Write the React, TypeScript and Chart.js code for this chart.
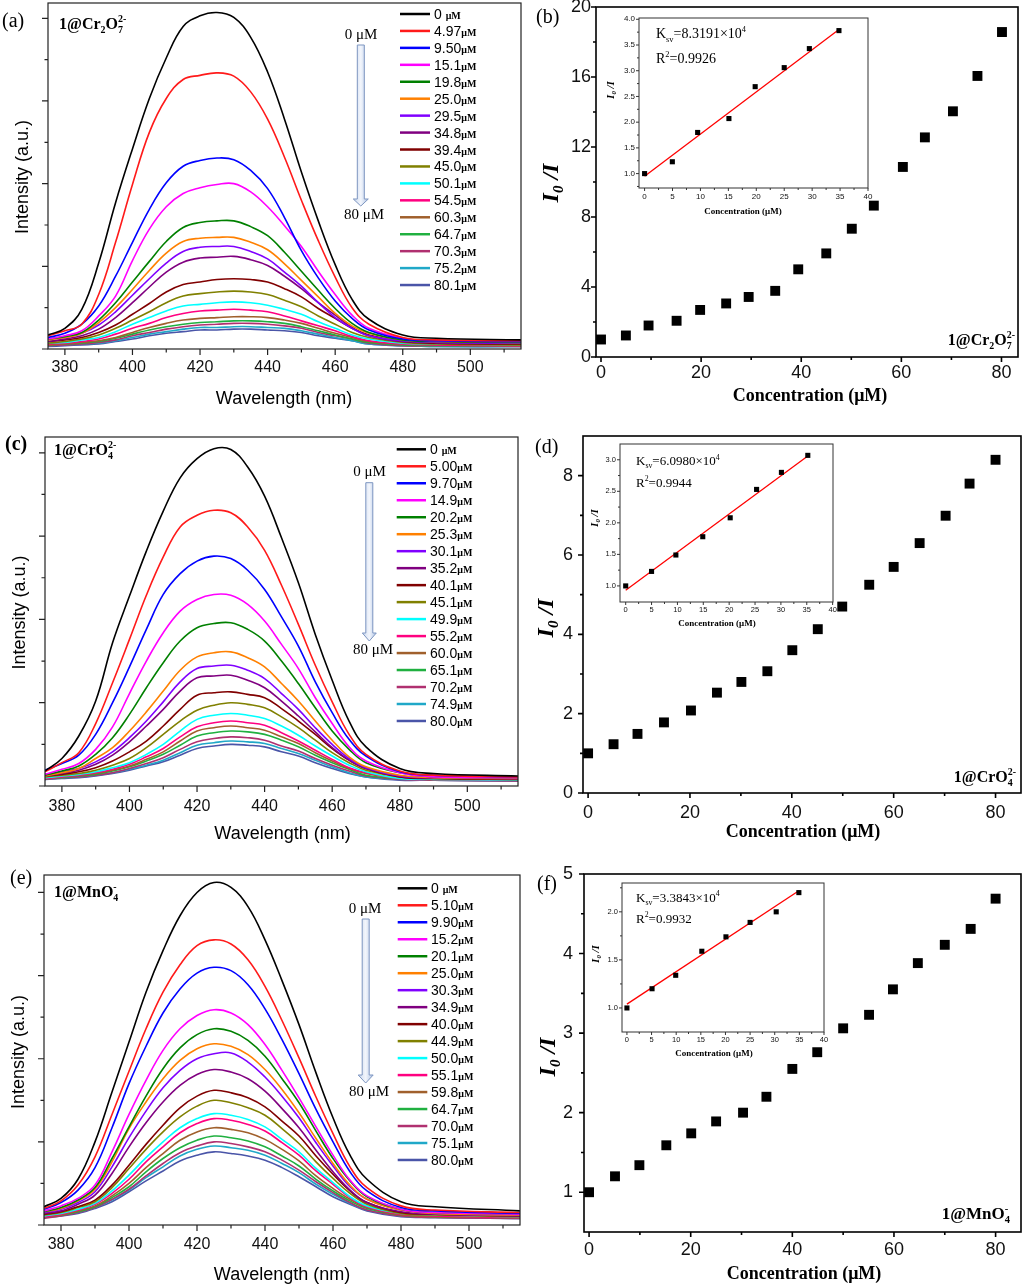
import React, { useEffect, useRef } from 'react';
import { Chart, registerables } from 'chart.js';

Chart.register(...registerables);

const SANS = '"Liberation Sans", Arial, sans-serif';
const SERIF = '"Liberation Serif", "Times New Roman", serif';

// ---------------- spectra data (a), (c), (e) ----------------
const WAVELENGTHS = [375, 380, 385, 390, 395, 400, 405, 410, 415, 420, 425, 430, 435, 440, 445, 450, 455, 460, 465, 470, 480, 490, 515];
const SPEC_X_MAJOR = [380, 400, 420, 440, 460, 480, 500];
const SPEC_X_MINOR = [390, 410, 430, 450, 470, 490, 510];
const SPEC_Y_MAJOR = [0, 100, 200, 300, 400];
const SPEC_Y_MINOR = [50, 150, 250, 350];

const SERIES_COLORS = [
  '#000000', '#ff1a1a', '#0000ff', '#ff00ff', '#008000', '#ff8000', '#8000ff', '#800080', '#800000',
  '#808000', '#00ffff', '#ff0080', '#a0602c', '#20b040', '#b03070', '#20a8c8', '#4a55a8',
];

const LEGEND_A = ['0', '4.97', '9.50', '15.1', '19.8', '25.0', '29.5', '34.8', '39.4', '45.0', '50.1', '54.5', '60.3', '64.7', '70.3', '75.2', '80.1'];
const LEGEND_C = ['0', '5.00', '9.70', '14.9', '20.2', '25.3', '30.1', '35.2', '40.1', '45.1', '49.9', '55.2', '60.0', '65.1', '70.2', '74.9', '80.0'];
const LEGEND_E = ['0', '5.10', '9.90', '15.2', '20.1', '25.0', '30.3', '34.9', '40.0', '44.9', '50.0', '55.1', '59.8', '64.7', '70.0', '75.1', '80.0'];

const SPECTRA_A = [
  [17, 25, 48, 104, 177, 242, 303, 352, 390, 403, 407, 401, 377, 335, 278, 214, 155, 102, 60, 36, 17, 13, 11],
  [16, 22, 30, 66, 129, 199, 262, 303, 326, 331, 334, 330, 311, 278, 232, 180, 131, 87, 50, 30, 14, 11, 10],
  [14, 19, 30, 52, 88, 129, 169, 201, 221, 228, 231, 229, 216, 194, 159, 119, 86, 58, 37, 23, 12, 10, 9],
  [12, 16, 22, 40, 64, 107, 145, 172, 188, 195, 199, 200, 190, 172, 149, 124, 94, 66, 41, 25, 13, 10, 9],
  [12, 15, 20, 35, 56, 81, 106, 130, 147, 153, 155, 155, 148, 137, 117, 94, 71, 49, 31, 20, 11, 9, 8],
  [11, 14, 19, 32, 50, 72, 95, 116, 130, 134, 135, 135, 129, 120, 103, 83, 63, 43, 28, 19, 11, 9, 8],
  [12, 14, 19, 29, 45, 65, 85, 104, 118, 123, 124, 124, 118, 109, 93, 76, 56, 38, 25, 16, 10, 8, 7],
  [9, 12, 16, 24, 38, 56, 75, 93, 105, 110, 111, 112, 108, 101, 88, 73, 56, 41, 26, 16, 9, 8, 7],
  [9, 11, 14, 20, 29, 42, 55, 69, 78, 81, 84, 85, 84, 81, 73, 63, 49, 37, 25, 17, 9, 7, 6],
  [7, 9, 12, 17, 25, 35, 45, 56, 64, 67, 69, 70, 69, 66, 59, 51, 40, 30, 20, 14, 8, 6, 5],
  [7, 8, 11, 14, 21, 30, 38, 46, 52, 54, 56, 57, 56, 53, 48, 42, 33, 25, 17, 12, 7, 6, 5],
  [6, 7, 9, 12, 18, 25, 31, 38, 43, 46, 47, 48, 47, 45, 40, 34, 28, 22, 15, 10, 6, 5, 4],
  [5, 6, 8, 10, 14, 20, 26, 31, 35, 37, 38, 39, 39, 38, 35, 31, 25, 19, 14, 9, 6, 5, 4],
  [5, 6, 7, 9, 13, 18, 23, 27, 30, 32, 33, 34, 34, 33, 31, 27, 22, 17, 12, 8, 5, 4, 4],
  [4, 5, 6, 8, 11, 16, 20, 24, 27, 29, 30, 31, 31, 30, 28, 25, 20, 16, 12, 7, 4, 4, 3],
  [4, 5, 6, 7, 10, 14, 18, 21, 24, 26, 26, 27, 27, 26, 25, 22, 18, 14, 10, 6, 4, 3, 3],
  [3, 4, 5, 6, 9, 12, 16, 19, 21, 23, 23, 24, 24, 23, 22, 20, 16, 13, 10, 6, 4, 3, 3],
];

const SPECTRA_C = [
  [18, 33, 60, 102, 172, 228, 282, 330, 370, 393, 405, 404, 383, 348, 298, 244, 182, 127, 78, 47, 21, 15, 12],
  [17, 28, 40, 75, 124, 176, 229, 275, 311, 325, 331, 328, 311, 283, 241, 194, 145, 101, 62, 38, 18, 13, 11],
  [19, 27, 37, 62, 100, 143, 188, 230, 255, 270, 276, 273, 259, 236, 203, 168, 125, 88, 56, 36, 17, 13, 11],
  [14, 20, 27, 44, 71, 111, 150, 184, 210, 224, 230, 229, 218, 198, 170, 141, 106, 75, 47, 30, 16, 11, 10],
  [13, 18, 24, 38, 58, 86, 118, 148, 174, 190, 195, 196, 188, 174, 150, 123, 94, 66, 44, 28, 16, 11, 10],
  [12, 16, 21, 33, 46, 66, 89, 114, 139, 155, 160, 161, 154, 143, 123, 102, 78, 55, 35, 23, 13, 10, 9],
  [14, 17, 21, 29, 41, 58, 78, 101, 125, 141, 144, 145, 139, 129, 111, 92, 70, 50, 33, 22, 12, 10, 9],
  [12, 15, 19, 26, 37, 53, 72, 92, 114, 130, 132, 133, 127, 118, 102, 84, 65, 46, 31, 21, 12, 10, 9],
  [12, 14, 17, 22, 30, 41, 54, 72, 92, 109, 112, 113, 110, 106, 93, 78, 62, 45, 31, 21, 11, 9, 8],
  [11, 13, 15, 19, 25, 33, 46, 62, 78, 91, 97, 100, 98, 94, 83, 70, 55, 40, 28, 19, 11, 9, 8],
  [10, 12, 14, 17, 22, 28, 38, 50, 66, 80, 85, 87, 85, 81, 72, 61, 48, 36, 25, 17, 9, 8, 7],
  [9, 11, 13, 16, 20, 26, 35, 45, 59, 71, 76, 78, 76, 73, 64, 54, 43, 32, 22, 16, 9, 8, 7],
  [9, 11, 13, 15, 19, 24, 32, 41, 54, 66, 70, 72, 70, 67, 59, 51, 40, 30, 21, 15, 9, 8, 7],
  [9, 10, 12, 14, 18, 23, 30, 38, 49, 60, 64, 66, 65, 62, 55, 47, 37, 28, 20, 13, 9, 8, 7],
  [8, 10, 11, 13, 16, 21, 27, 34, 44, 53, 57, 59, 58, 55, 48, 42, 33, 25, 18, 12, 8, 7, 6],
  [8, 10, 11, 13, 16, 20, 25, 31, 40, 49, 52, 54, 53, 51, 45, 39, 31, 23, 16, 11, 8, 7, 6],
  [8, 9, 10, 12, 15, 19, 24, 29, 37, 45, 48, 50, 49, 47, 41, 36, 28, 21, 15, 11, 7, 7, 6],
];

const SPECTRA_E = [
  [22, 32, 55, 100, 160, 220, 280, 330, 372, 400, 412, 406, 383, 343, 294, 241, 183, 129, 84, 55, 28, 22, 17],
  [20, 29, 48, 82, 133, 185, 236, 280, 313, 336, 343, 338, 319, 287, 246, 201, 154, 110, 70, 45, 23, 18, 15],
  [19, 27, 42, 69, 117, 170, 215, 255, 284, 303, 310, 306, 289, 260, 223, 182, 139, 100, 64, 41, 21, 17, 14],
  [17, 23, 32, 48, 88, 133, 174, 210, 236, 252, 259, 255, 241, 217, 186, 153, 118, 84, 54, 35, 19, 15, 13],
  [16, 21, 30, 45, 80, 118, 155, 188, 213, 229, 236, 233, 222, 203, 176, 147, 113, 80, 53, 34, 19, 15, 13],
  [16, 20, 29, 43, 76, 116, 148, 176, 198, 212, 218, 215, 205, 187, 163, 135, 104, 74, 48, 31, 18, 14, 12],
  [15, 19, 27, 40, 70, 105, 137, 165, 186, 200, 206, 207, 196, 178, 155, 129, 99, 71, 46, 31, 18, 14, 12],
  [14, 17, 25, 36, 62, 94, 123, 148, 168, 181, 187, 184, 176, 161, 140, 117, 90, 64, 42, 27, 16, 13, 11],
  [13, 16, 22, 30, 48, 72, 97, 120, 141, 155, 162, 159, 153, 142, 125, 107, 83, 61, 41, 27, 15, 13, 11],
  [12, 15, 21, 28, 45, 68, 91, 112, 130, 143, 150, 147, 141, 132, 116, 98, 76, 56, 38, 25, 14, 12, 10],
  [11, 14, 19, 26, 41, 60, 81, 100, 117, 128, 134, 132, 127, 118, 103, 88, 68, 51, 34, 23, 14, 12, 10],
  [10, 13, 18, 25, 38, 55, 76, 94, 111, 122, 128, 126, 121, 113, 99, 84, 65, 49, 33, 22, 13, 11, 9],
  [10, 12, 17, 23, 35, 50, 69, 86, 102, 112, 117, 115, 111, 103, 91, 77, 59, 44, 31, 21, 12, 10, 9],
  [10, 12, 16, 22, 33, 46, 64, 80, 93, 102, 107, 105, 101, 94, 83, 71, 55, 41, 29, 20, 12, 10, 9],
  [8, 11, 15, 21, 31, 43, 59, 74, 87, 95, 100, 98, 94, 88, 78, 66, 52, 39, 27, 18, 11, 9, 8],
  [10, 12, 15, 21, 30, 42, 57, 70, 83, 91, 95, 93, 90, 84, 74, 63, 49, 37, 26, 18, 11, 9, 8],
  [9, 11, 14, 20, 28, 40, 53, 65, 77, 84, 88, 86, 83, 78, 69, 58, 46, 34, 25, 17, 10, 9, 8],
];

// ---------------- Stern-Volmer data (b), (d), (f) ----------------
const CONC_B = [0, 4.97, 9.5, 15.1, 19.8, 25.0, 29.5, 34.8, 39.4, 45.0, 50.1, 54.5, 60.3, 64.7, 70.3, 75.2, 80.1];
const RATIO_B = [1.0, 1.23, 1.8, 2.07, 2.69, 3.06, 3.43, 3.78, 5.01, 5.92, 7.33, 8.65, 10.86, 12.55, 14.04, 16.06, 18.57];
const FIT_B_X = [0, 34.8];
const FIT_B_Y = [0.95, 3.8];
const KSV_B = '8.3191';
const R2_B = '0.9926';

const CONC_D = [0, 5.0, 9.7, 14.9, 20.2, 25.3, 30.1, 35.2, 40.1, 45.1, 49.9, 55.2, 60.0, 65.1, 70.2, 74.9, 80.0];
const RATIO_D = [1.0, 1.23, 1.49, 1.78, 2.08, 2.53, 2.8, 3.07, 3.6, 4.13, 4.7, 5.25, 5.7, 6.3, 6.99, 7.8, 8.4];
const FIT_D_X = [0, 35.2];
const FIT_D_Y = [0.93, 3.06];
const KSV_D = '6.0980';
const R2_D = '0.9944';

const CONC_F = [0, 5.1, 9.9, 15.2, 20.1, 25.0, 30.3, 34.9, 40.0, 44.9, 50.0, 55.1, 59.8, 64.7, 70.0, 75.1, 80.0];
const RATIO_F = [1.0, 1.2, 1.34, 1.59, 1.74, 1.89, 2.0, 2.2, 2.55, 2.76, 3.06, 3.23, 3.55, 3.88, 4.11, 4.31, 4.69];
const FIT_F_X = [0, 34.9];
const FIT_F_Y = [1.04, 2.22];
const KSV_F = '3.3843';
const R2_F = '0.9932';

const INSET_POINTS = 8;

const SC_X_MAJOR = [0, 20, 40, 60, 80];
const SC_X_MINOR = [10, 30, 50, 70];
const B_Y_MAJOR = [0, 4, 8, 12, 16, 20];
const B_Y_MINOR = [2, 6, 10, 14, 18];
const D_Y_MAJOR = [0, 2, 4, 6, 8];
const D_Y_MINOR = [1, 3, 5, 7];
const F_Y_MAJOR = [1, 2, 3, 4, 5];
const F_Y_MINOR = [1.5, 2.5, 3.5, 4.5];
const IN_X_MAJOR = [0, 5, 10, 15, 20, 25, 30, 35, 40];
const IN_X_MINOR = [2.5, 7.5, 12.5, 17.5, 22.5, 27.5, 32.5, 37.5];
const INB_Y_MAJOR = [1.0, 1.5, 2.0, 2.5, 3.0, 3.5, 4.0];
const INB_Y_MINOR = [0.75, 1.25, 1.75, 2.25, 2.75, 3.25, 3.75];
const IND_Y_MAJOR = [1.0, 1.5, 2.0, 2.5, 3.0];
const IND_Y_MINOR = [1.25, 1.75, 2.25, 2.75];
const INF_Y_MAJOR = [1.0, 1.5, 2.0];
const INF_Y_MINOR = [1.25, 1.75, 2.25];

// ---------------- rich text helpers ----------------
type Seg = { t: string; size: number; bold?: boolean; italic?: boolean; serif?: boolean; dy?: number; stack?: boolean };

function segFont(s: Seg) {
  return `${s.italic ? 'italic ' : ''}${s.bold ? 'bold ' : ''}${s.size}px ${s.serif ? SERIF : SANS}`;
}

function richWidth(ctx: CanvasRenderingContext2D, segs: Seg[]) {
  let x = 0, px = 0, pw = 0;
  for (const s of segs) {
    ctx.font = segFont(s);
    const w = ctx.measureText(s.t).width;
    if (s.stack) { x = px + Math.max(pw, w); pw = Math.max(pw, w); }
    else { px = x; pw = w; x += w; }
  }
  return x;
}

function drawRich(ctx: CanvasRenderingContext2D, segs: Seg[], x: number, y: number, align = 'left', rot = 0, color = '#000') {
  ctx.save();
  ctx.translate(x, y);
  if (rot) ctx.rotate(rot);
  const total = richWidth(ctx, segs);
  let cx = align === 'left' ? 0 : align === 'center' ? -total / 2 : -total;
  let px = cx, pw = 0;
  ctx.fillStyle = color;
  ctx.textBaseline = 'alphabetic';
  ctx.textAlign = 'left';
  for (const s of segs) {
    ctx.font = segFont(s);
    const w = ctx.measureText(s.t).width;
    if (s.stack) {
      ctx.fillText(s.t, px, s.dy || 0);
      cx = px + Math.max(pw, w);
      pw = Math.max(pw, w);
    } else {
      ctx.fillText(s.t, cx, s.dy || 0);
      px = cx; pw = w; cx += w;
    }
  }
  ctx.restore();
}

const B = { bold: true, serif: true };
function tagCr2O7(s: number): Seg[] {
  return [
    { t: '1@Cr', size: s, ...B },
    { t: '2', size: s * 0.62, ...B, dy: s * 0.25 },
    { t: 'O', size: s, ...B },
    { t: '7', size: s * 0.62, ...B, dy: s * 0.25 },
    { t: '2-', size: s * 0.62, ...B, dy: -s * 0.42, stack: true },
  ];
}
function tagCrO4(s: number): Seg[] {
  return [
    { t: '1@CrO', size: s, ...B },
    { t: '4', size: s * 0.62, ...B, dy: s * 0.25 },
    { t: '2-', size: s * 0.62, ...B, dy: -s * 0.42, stack: true },
  ];
}
function tagMnO4(s: number): Seg[] {
  return [
    { t: '1@MnO', size: s, ...B },
    { t: '4', size: s * 0.62, ...B, dy: s * 0.25 },
    { t: '-', size: s * 0.62, ...B, dy: -s * 0.42, stack: true },
  ];
}
function ratioTitle(s: number): Seg[] {
  const f = { bold: true, italic: true, serif: true };
  return [
    { t: 'I', size: s, ...f },
    { t: '0', size: s * 0.62, ...f, dy: s * 0.22 },
    { t: ' /I', size: s, ...f },
  ];
}
function ksvText(v: string, s: number): Seg[] {
  return [
    { t: 'K', size: s, serif: true },
    { t: 'sv', size: s * 0.6, serif: true, dy: s * 0.25 },
    { t: '=' + v + '×10', size: s, serif: true },
    { t: '4', size: s * 0.6, serif: true, dy: -s * 0.42 },
  ];
}
function r2Text(v: string, s: number): Seg[] {
  return [
    { t: 'R', size: s, serif: true },
    { t: '2', size: s * 0.6, serif: true, dy: -s * 0.42 },
    { t: '=' + v, size: s, serif: true },
  ];
}

// ---------------- chart helpers ----------------
function drawFrameTicks(chart: any, t: any) {
  const { ctx, chartArea: a } = chart;
  const xs = chart.scales.x, ys = chart.scales.y;
  ctx.save();
  ctx.strokeStyle = t.color;
  ctx.lineWidth = t.lw;
  ctx.beginPath();
  const seg = (x1: number, y1: number, x2: number, y2: number) => { ctx.moveTo(x1, y1); ctx.lineTo(x2, y2); };
  t.xMaj.forEach((v: number) => { const p = xs.getPixelForValue(v); seg(p, a.bottom, p, a.bottom + t.maj); });
  t.xMin.forEach((v: number) => { const p = xs.getPixelForValue(v); seg(p, a.bottom, p, a.bottom + t.min); });
  t.yMaj.forEach((v: number) => { const p = ys.getPixelForValue(v); seg(a.left, p, a.left - t.maj, p); });
  t.yMin.forEach((v: number) => { const p = ys.getPixelForValue(v); seg(a.left, p, a.left - t.min, p); });
  ctx.stroke();
  ctx.strokeRect(a.left, a.top, a.right - a.left, a.bottom - a.top);
  ctx.restore();
}

function fitX(rect: any, area: any) {
  const h = rect.T + rect.H - area.b;
  return (s: any) => { s.height = h; s.paddingLeft = 0; s.paddingRight = 0; };
}
function fitY(rect: any, area: any) {
  const w = area.l - rect.L;
  return (s: any) => { s.width = w; s.paddingTop = 0; s.paddingBottom = 0; };
}

function linAxis(min: number, max: number, ticks: number[], size: number, pad: number, show: boolean, fit: any, fmt: (v: number) => string) {
  return {
    type: 'linear',
    min,
    max,
    grid: { display: false, drawTicks: false },
    border: { display: false },
    afterBuildTicks: (s: any) => { s.ticks = ticks.map((v) => ({ value: v })); },
    afterFit: fit,
    ticks: {
      display: show, autoSkip: false, maxRotation: 0, minRotation: 0, padding: pad, color: '#111',
      font: { family: SANS, size }, callback: (v: any) => fmt(Number(v)),
    },
  };
}

function common(rect: any, area: any) {
  return {
    responsive: false,
    maintainAspectRatio: false,
    animation: false,
    devicePixelRatio: 1,
    events: [],
    layout: { padding: { left: 0, bottom: 0, top: area.t - rect.T, right: rect.L + rect.W - area.r } },
    plugins: { legend: { display: false }, tooltip: { enabled: false }, title: { display: false } },
  };
}

function drawArrow(ctx: CanvasRenderingContext2D, ar: any) {
  const { cx, top, headTop, bottom, shaftW, headW } = ar;
  const g = ctx.createLinearGradient(cx - headW / 2, 0, cx + headW / 2, 0);
  g.addColorStop(0, '#c9d7ee');
  g.addColorStop(0.5, '#f3f6fc');
  g.addColorStop(1, '#aec3e4');
  ctx.save();
  ctx.beginPath();
  ctx.moveTo(cx - shaftW / 2, top);
  ctx.lineTo(cx + shaftW / 2, top);
  ctx.lineTo(cx + shaftW / 2, headTop);
  ctx.lineTo(cx + headW / 2, headTop);
  ctx.lineTo(cx, bottom);
  ctx.lineTo(cx - headW / 2, headTop);
  ctx.lineTo(cx - shaftW / 2, headTop);
  ctx.closePath();
  ctx.fillStyle = g;
  ctx.fill();
  ctx.strokeStyle = '#7d95c0';
  ctx.lineWidth = 1;
  ctx.stroke();
  ctx.restore();
}

// ---------------- panel layouts ----------------
const PANEL_A = {
  rect: { L: 0, T: 0, W: 525, H: 415 }, area: { l: 48, t: 3, r: 521, b: 349 }, yMax: 418.5, xPad: 9.4,
  spectra: SPECTRA_A, labels: LEGEND_A,
  legend: { x1: 400, x2: 430, tx: 434, y0: 14, dy: 16.94 },
  arrow: { cx: 360.8, top: 45, headTop: 199, bottom: 206, shaftW: 7, headW: 15, l0: [361, 33.7], l80: [364, 214] },
  letter: { t: '(a)', x: 2, y: 27, bold: false },
  tag: { segs: tagCr2O7(16), x: 59, y: 28.5 },
  yTitle: [21, 177], xTitle: [284, 397],
};
const PANEL_C = {
  rect: { L: 0, T: 415, W: 525, H: 432 }, area: { l: 45, t: 437, r: 518, b: 786 }, yMax: 419, xPad: 11,
  spectra: SPECTRA_C, labels: LEGEND_C,
  legend: { x1: 396.7, x2: 426, tx: 430, y0: 449.3, dy: 16.98 },
  arrow: { cx: 369.3, top: 482.7, headTop: 633, bottom: 641, shaftW: 7, headW: 14, l0: [369.5, 471.3], l80: [373, 649.3] },
  letter: { t: '(c)', x: 5, y: 450, bold: true },
  tag: { segs: tagCrO4(16), x: 54, y: 454.5 },
  yTitle: [18, 612.5], xTitle: [282.5, 832],
};
const PANEL_E = {
  rect: { L: 0, T: 845, W: 525, H: 440 }, area: { l: 44, t: 875, r: 520, b: 1225 }, yMax: 421, xPad: 10.4,
  spectra: SPECTRA_E, labels: LEGEND_E,
  legend: { x1: 397.7, x2: 427.3, tx: 431, y0: 888.3, dy: 16.98 },
  arrow: { cx: 365.7, top: 919, headTop: 1075, bottom: 1083, shaftW: 7, headW: 15, l0: [365, 907.7], l80: [369, 1090.7] },
  letter: { t: '(e)', x: 10, y: 884, bold: false },
  tag: { segs: tagMnO4(16), x: 54, y: 896.5 },
  yTitle: [17, 1052], xTitle: [282, 1273],
};

const PANEL_B = {
  rect: { L: 525, T: 0, W: 503, H: 415 }, area: { l: 596, t: 7, r: 1018, b: 357 },
  xMax: 83.3, yMin: 0, yMax: 20, yMaj: B_Y_MAJOR, yMin2: B_Y_MINOR, xPad: 5.5, yPad: 5,
  conc: CONC_B, ratio: RATIO_B,
  letter: { t: '(b)', x: 536, y: 23 }, yTitle: [550, 183], xTitle: [810, 401],
  tag: { segs: tagCr2O7(16), x: 1015, y: 345 },
};
const PANEL_D = {
  rect: { L: 525, T: 415, W: 503, H: 432 }, area: { l: 583, t: 436, r: 1022, b: 793 },
  xMax: 85, yMin: 0, yMax: 9, yMaj: D_Y_MAJOR, yMin2: D_Y_MINOR, xPad: 9.5, yPad: 10,
  conc: CONC_D, ratio: RATIO_D,
  letter: { t: '(d)', x: 535, y: 453 }, yTitle: [545, 618], xTitle: [803, 837],
  tag: { segs: tagCrO4(16), x: 1016, y: 782 },
};
const PANEL_F = {
  rect: { L: 525, T: 845, W: 503, H: 440 }, area: { l: 584, t: 874, r: 1023, b: 1232 },
  xMax: 85, yMin: 0.5, yMax: 5, yMaj: F_Y_MAJOR, yMin2: F_Y_MINOR, xPad: 7.2, yPad: 11,
  conc: CONC_F, ratio: RATIO_F,
  letter: { t: '(f)', x: 537, y: 890 }, yTitle: [547, 1057], xTitle: [804, 1279],
  tag: { segs: tagMnO4(17), x: 1010, y: 1219 },
};

const INSET_B = {
  rect: { L: 600, T: 5, W: 280, H: 220 }, area: { l: 639, t: 18, r: 868, b: 188 },
  xMin: -1, xMax: 40, yMin: 0.72, yMax: 4.025, yMaj: INB_Y_MAJOR, yMin2: INB_Y_MINOR,
  conc: CONC_B, ratio: RATIO_B, fitX: FIT_B_X, fitY: FIT_B_Y, ksv: KSV_B, r2: R2_B,
  font: 8, tfont: 14, kPos: [656, 38.3], rPos: [656, 62.5], yTitle: [610, 90], xTitle: [743, 214],
};
const INSET_D = {
  rect: { L: 575, T: 430, W: 270, H: 205 }, area: { l: 620, t: 444, r: 833, b: 602 },
  xMin: -1.1, xMax: 40.07, yMin: 0.745, yMax: 3.25, yMaj: IND_Y_MAJOR, yMin2: IND_Y_MINOR,
  conc: CONC_D, ratio: RATIO_D, fitX: FIT_D_X, fitY: FIT_D_Y, ksv: KSV_D, r2: R2_D,
  font: 7.5, tfont: 13, kPos: [636, 465], rPos: [636, 486.5], yTitle: [594, 518], xTitle: [717, 626],
};
const INSET_F = {
  rect: { L: 580, T: 870, W: 255, H: 195 }, area: { l: 622, t: 883, r: 824, b: 1032 },
  xMin: -1, xMax: 40, yMin: 0.75, yMax: 2.3, yMaj: INF_Y_MAJOR, yMin2: INF_Y_MINOR,
  conc: CONC_F, ratio: RATIO_F, fitX: FIT_F_X, fitY: FIT_F_Y, ksv: KSV_F, r2: R2_F,
  font: 7.5, tfont: 13, kPos: [636, 901.5], rPos: [636, 922.5], yTitle: [595, 954], xTitle: [714, 1056],
};

// ---------------- builders ----------------
function buildSpectrum(canvas: HTMLCanvasElement, p: any) {
  const { rect, area } = p;
  const datasets = p.spectra.map((arr: number[], i: number) => ({
    label: p.labels[i],
    data: WAVELENGTHS.map((x, j) => ({ x, y: arr[j] })),
    borderColor: SERIES_COLORS[i],
    backgroundColor: SERIES_COLORS[i],
    borderWidth: 1.6,
    pointRadius: 0,
    fill: false,
    tension: 0.4,
  }));
  const plugin = {
    id: 'specDeco',
    afterDraw(chart: any) {
      drawFrameTicks(chart, { xMaj: SPEC_X_MAJOR, xMin: SPEC_X_MINOR, yMaj: SPEC_Y_MAJOR, yMin: SPEC_Y_MINOR, maj: 6, min: 3.5, lw: 1.2, color: '#222' });
      const ctx = chart.ctx as CanvasRenderingContext2D;
      ctx.save();
      ctx.translate(-rect.L, -rect.T);
      const lg = p.legend;
      chart.data.datasets.forEach((ds: any, i: number) => {
        const y = lg.y0 + i * lg.dy;
        ctx.strokeStyle = ds.borderColor;
        ctx.lineWidth = 2.5;
        ctx.beginPath();
        ctx.moveTo(lg.x1, y);
        ctx.lineTo(lg.x2, y);
        ctx.stroke();
        drawRich(ctx, [{ t: ds.label + (i === 0 ? ' ' : ''), size: 14 }, { t: 'μM', size: 10, bold: true, serif: true }], lg.tx, y + 5);
      });
      const ar = p.arrow;
      drawArrow(ctx, ar);
      drawRich(ctx, [{ t: '0 μM', size: 15, serif: true }], ar.l0[0], ar.l0[1] + 5, 'center');
      drawRich(ctx, [{ t: '80 μM', size: 15, serif: true }], ar.l80[0], ar.l80[1] + 5, 'center');
      drawRich(ctx, [{ t: p.letter.t, size: 20, serif: true, bold: p.letter.bold }], p.letter.x, p.letter.y);
      drawRich(ctx, p.tag.segs, p.tag.x, p.tag.y);
      drawRich(ctx, [{ t: 'Intensity (a.u.)', size: 18 }], p.yTitle[0] + 6.5, p.yTitle[1], 'center', -Math.PI / 2);
      drawRich(ctx, [{ t: 'Wavelength (nm)', size: 18 }], p.xTitle[0], p.xTitle[1] + 6.5, 'center');
      ctx.restore();
    },
  };
  return new Chart(canvas, {
    type: 'line',
    data: { datasets },
    options: {
      ...common(rect, area),
      scales: {
        x: linAxis(375, 515, SPEC_X_MAJOR, 16, p.xPad, true, fitX(rect, area), (v) => String(v)),
        y: linAxis(0, p.yMax, SPEC_Y_MAJOR, 16, 0, false, fitY(rect, area), () => ''),
      },
    } as any,
    plugins: [plugin],
  } as any);
}

function buildScatter(canvas: HTMLCanvasElement, p: any) {
  const { rect, area } = p;
  const plugin = {
    id: 'scDeco',
    afterDraw(chart: any) {
      drawFrameTicks(chart, { xMaj: SC_X_MAJOR, xMin: SC_X_MINOR, yMaj: p.yMaj, yMin: p.yMin2, maj: 5, min: 3, lw: 1.6, color: '#000' });
      const ctx = chart.ctx as CanvasRenderingContext2D;
      ctx.save();
      ctx.translate(-rect.L, -rect.T);
      drawRich(ctx, [{ t: p.letter.t, size: 20, serif: true }], p.letter.x, p.letter.y);
      drawRich(ctx, ratioTitle(24), p.yTitle[0] + 8, p.yTitle[1], 'center', -Math.PI / 2);
      drawRich(ctx, [{ t: 'Concentration (μM)', size: 18, bold: true, serif: true }], p.xTitle[0], p.xTitle[1], 'center');
      drawRich(ctx, p.tag.segs, p.tag.x, p.tag.y, 'right');
      ctx.restore();
    },
  };
  return new Chart(canvas, {
    type: 'scatter',
    data: {
      datasets: [{
        data: p.conc.map((x: number, i: number) => ({ x, y: p.ratio[i] })),
        pointStyle: 'rect', pointRadius: 7, backgroundColor: '#000', borderColor: '#000', borderWidth: 0,
      }],
    },
    options: {
      ...common(rect, area),
      scales: {
        x: linAxis(-1, p.xMax, SC_X_MAJOR, 18, p.xPad, true, fitX(rect, area), (v) => String(v)),
        y: linAxis(p.yMin, p.yMax, p.yMaj, 18, p.yPad, true, fitY(rect, area), (v) => String(v)),
      },
    } as any,
    plugins: [plugin],
  } as any);
}

function buildInset(canvas: HTMLCanvasElement, p: any) {
  const { rect, area } = p;
  const plugin = {
    id: 'inDeco',
    afterDraw(chart: any) {
      drawFrameTicks(chart, { xMaj: IN_X_MAJOR, xMin: IN_X_MINOR, yMaj: p.yMaj, yMin: p.yMin2, maj: 3, min: 2, lw: 1, color: '#333' });
      const ctx = chart.ctx as CanvasRenderingContext2D;
      ctx.save();
      ctx.translate(-rect.L, -rect.T);
      drawRich(ctx, ksvText(p.ksv, p.tfont), p.kPos[0], p.kPos[1]);
      drawRich(ctx, r2Text(p.r2, p.tfont), p.rPos[0], p.rPos[1]);
      drawRich(ctx, ratioTitle(11), p.yTitle[0] + 4, p.yTitle[1], 'center', -Math.PI / 2);
      drawRich(ctx, [{ t: 'Concentration (μM)', size: 9, bold: true, serif: true }], p.xTitle[0], p.xTitle[1], 'center');
      ctx.restore();
    },
  };
  const xs = p.conc.slice(0, INSET_POINTS);
  const ys = p.ratio.slice(0, INSET_POINTS);
  return new Chart(canvas, {
    type: 'scatter',
    data: {
      datasets: [
        {
          data: xs.map((x: number, i: number) => ({ x, y: ys[i] })),
          pointStyle: 'rect', pointRadius: 3.6, backgroundColor: '#000', borderColor: '#000', borderWidth: 0,
        },
        {
          data: p.fitX.map((x: number, i: number) => ({ x, y: p.fitY[i] })),
          showLine: true, borderColor: '#ff0000', borderWidth: 1.3, pointRadius: 0,
        },
      ],
    },
    options: {
      ...common(rect, area),
      scales: {
        x: linAxis(p.xMin, p.xMax, IN_X_MAJOR, p.font, 3.5, true, fitX(rect, area), (v) => String(v)),
        y: linAxis(p.yMin, p.yMax, p.yMaj, p.font, 4, true, fitY(rect, area), (v) => v.toFixed(1)),
      },
    } as any,
    plugins: [plugin],
  } as any);
}

function ChartCanvas({ rect, build }: { rect: any; build: (c: HTMLCanvasElement) => Chart }) {
  const ref = useRef<HTMLCanvasElement>(null);
  useEffect(() => {
    const ch = build(ref.current as HTMLCanvasElement);
    return () => ch.destroy();
  }, []);
  return (
    <canvas
      ref={ref}
      width={rect.W}
      height={rect.H}
      style={{ position: 'absolute', left: rect.L, top: rect.T, width: rect.W, height: rect.H }}
    />
  );
}

export default function App() {
  return (
    <div style={{ position: 'absolute', left: 0, top: 0, width: 1028, height: 1285, background: '#fff', overflow: 'hidden' }}>
      <ChartCanvas rect={PANEL_A.rect} build={(c) => buildSpectrum(c, PANEL_A)} />
      <ChartCanvas rect={PANEL_B.rect} build={(c) => buildScatter(c, PANEL_B)} />
      <ChartCanvas rect={PANEL_C.rect} build={(c) => buildSpectrum(c, PANEL_C)} />
      <ChartCanvas rect={PANEL_D.rect} build={(c) => buildScatter(c, PANEL_D)} />
      <ChartCanvas rect={PANEL_E.rect} build={(c) => buildSpectrum(c, PANEL_E)} />
      <ChartCanvas rect={PANEL_F.rect} build={(c) => buildScatter(c, PANEL_F)} />
      <ChartCanvas rect={INSET_B.rect} build={(c) => buildInset(c, INSET_B)} />
      <ChartCanvas rect={INSET_D.rect} build={(c) => buildInset(c, INSET_D)} />
      <ChartCanvas rect={INSET_F.rect} build={(c) => buildInset(c, INSET_F)} />
    </div>
  );
}
